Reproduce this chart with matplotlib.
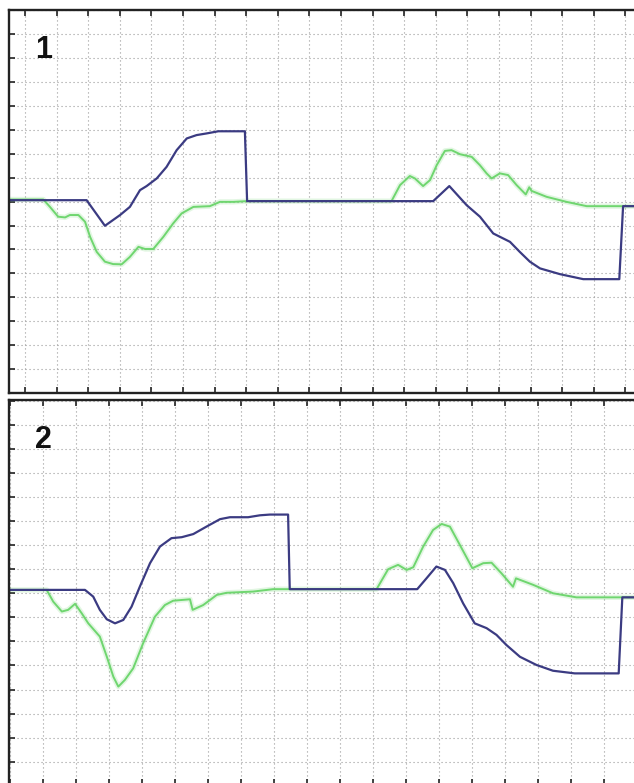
import matplotlib.pyplot as plt
from matplotlib.ticker import MultipleLocator

# panel 1 (x, y in grid units)
top_blue_x = [-0.51, 1.95, 2.53, 3.01, 3.32, 3.64, 3.85, 4.17, 4.48, 4.80, 5.12, 5.43, 5.75, 6.12, 6.96,
              7.03, 12.92, 13.43, 13.98, 14.40, 14.82, 15.35, 15.66, 15.98, 16.30, 16.93, 17.67, 18.81,
              18.93, 19.46]
top_blue_y = [0.06, 0.06, -1.01, -0.56, -0.22, 0.48, 0.65, 0.97, 1.45, 2.15, 2.64, 2.78, 2.85, 2.94, 2.94,
              0.02, 0.02, 0.65, -0.15, -0.63, -1.33, -1.68, -2.10, -2.51, -2.79, -3.03, -3.24, -3.24,
              -0.19, -0.19]

top_green_x = [-0.51, 0.58, 0.79, 1.05, 1.27, 1.42, 1.69, 1.90, 2.06, 2.27, 2.53, 2.79, 3.06, 3.32, 3.59,
               3.80, 4.06, 4.38, 4.69, 4.96, 5.33, 5.85, 6.17, 6.59, 7.02, 11.60, 11.87, 12.18, 12.34,
               12.60, 12.82, 13.03, 13.29, 13.50, 13.77, 14.14, 14.40, 14.61, 14.77, 15.03, 15.29, 15.56,
               15.85, 15.96, 16.03, 16.51, 17.14, 17.78, 19.46]
top_green_y = [0.09, 0.09, -0.22, -0.63, -0.66, -0.56, -0.56, -0.84, -1.47, -2.10, -2.51, -2.61, -2.62,
               -2.31, -1.89, -1.98, -1.98, -1.47, -0.91, -0.49, -0.22, -0.19, -0.01, -0.01, 0.02, 0.02,
               0.69, 1.07, 0.97, 0.65, 0.90, 1.52, 2.12, 2.15, 1.98, 1.87, 1.52, 1.18, 0.97, 1.18, 1.11,
               0.69, 0.30, 0.60, 0.45, 0.20, -0.01, -0.19, -0.19]

# panel 2
bot_blue_x = [-1.02, 1.28, 1.53, 1.73, 1.94, 2.19, 2.44, 2.69, 2.94, 3.25, 3.55, 3.90, 4.21, 4.56, 4.96,
              5.37, 5.67, 6.22, 6.58, 6.88, 7.43, 7.48, 11.34, 11.62, 11.92, 12.18, 12.43, 12.73, 13.08,
              13.44, 13.74, 14.04, 14.45, 14.95, 15.45, 16.11, 17.44, 17.55, 18.08]
bot_blue_y = [0.14, 0.14, -0.14, -0.69, -1.08, -1.25, -1.11, -0.56, 0.27, 1.25, 1.94, 2.29, 2.33, 2.46,
              2.77, 3.08, 3.16, 3.16, 3.24, 3.27, 3.27, 0.17, 0.17, 0.62, 1.11, 0.97, 0.42, -0.42, -1.25,
              -1.45, -1.73, -2.15, -2.64, -2.98, -3.22, -3.33, -3.33, -0.17, -0.17]

bot_green_x = [-1.02, 0.12, 0.32, 0.58, 0.77, 0.98, 1.18, 1.38, 1.73, 1.94, 2.14, 2.29, 2.49, 2.74, 3.04,
               3.40, 3.70, 3.95, 4.46, 4.54, 4.86, 5.27, 5.57, 6.37, 6.98, 7.48, 10.11, 10.46, 10.76,
               11.02, 11.22, 11.52, 11.82, 12.08, 12.33, 12.63, 13.01, 13.34, 13.59, 13.89, 14.24, 14.33,
               14.85, 15.45, 16.16, 18.08]
bot_green_y = [0.14, 0.14, -0.35, -0.76, -0.69, -0.44, -0.83, -1.25, -1.80, -2.63, -3.47, -3.88, -3.60,
               -3.12, -2.08, -0.97, -0.49, -0.31, -0.25, -0.69, -0.49, -0.07, 0.02, 0.07, 0.17, 0.17, 0.17,
               1.00, 1.18, 0.97, 1.08, 1.94, 2.63, 2.88, 2.77, 2.01, 1.04, 1.25, 1.27, 0.83, 0.27, 0.62,
               0.35, 0.0, -0.17, -0.17]

panels = [
    ("1", top_blue_x, top_blue_y, top_green_x, top_green_y, (-0.506, 19.46), (-8, 8)),
    ("2", bot_blue_x, bot_blue_y, bot_green_x, bot_green_y, (-1.02, 18.08), (-7.97, 8.03)),
]
rects = [[0.0142, 0.498, 0.995, 0.489], [0.0142, -0.0026, 0.995, 0.4917]]

BLUE = "#3b3b82"
GREEN = "#6fd66f"

fig = plt.figure(figsize=(6.34, 7.83), dpi=100)
fig.patch.set_facecolor("white")

for rect, (label, bx, by, gx, gy, xl, yl) in zip(rects, panels):
    ax = fig.add_axes(rect)
    ax.plot(gx, gy, color=GREEN, lw=3.8, alpha=0.2, solid_joinstyle="round")
    ax.plot(gx, gy, color=GREEN, lw=1.4, solid_joinstyle="round")
    ax.plot(bx, by, color=BLUE, lw=1.6, solid_joinstyle="round")
    ax.set_xlim(*xl)
    ax.set_ylim(*yl)
    ax.xaxis.set_major_locator(MultipleLocator(1))
    ax.yaxis.set_major_locator(MultipleLocator(1))
    ax.grid(True, color="#9a9a9a", lw=0.8, linestyle=(0, (1, 2.6)))
    ax.tick_params(direction="in", length=4.5, width=1.2, color="#222222",
                   top=True, bottom=True, left=True, right=True,
                   labelbottom=False, labelleft=False)
    for sp in ax.spines.values():
        sp.set_linewidth(1.7)
        sp.set_color("#222222")
    ax.text(0.055, 0.897, label, transform=ax.transAxes, ha="center", va="center",
            fontsize=22, fontweight="bold", family="Liberation Sans", color="#111111")

plt.savefig("out.png", dpi=100, facecolor="white")
